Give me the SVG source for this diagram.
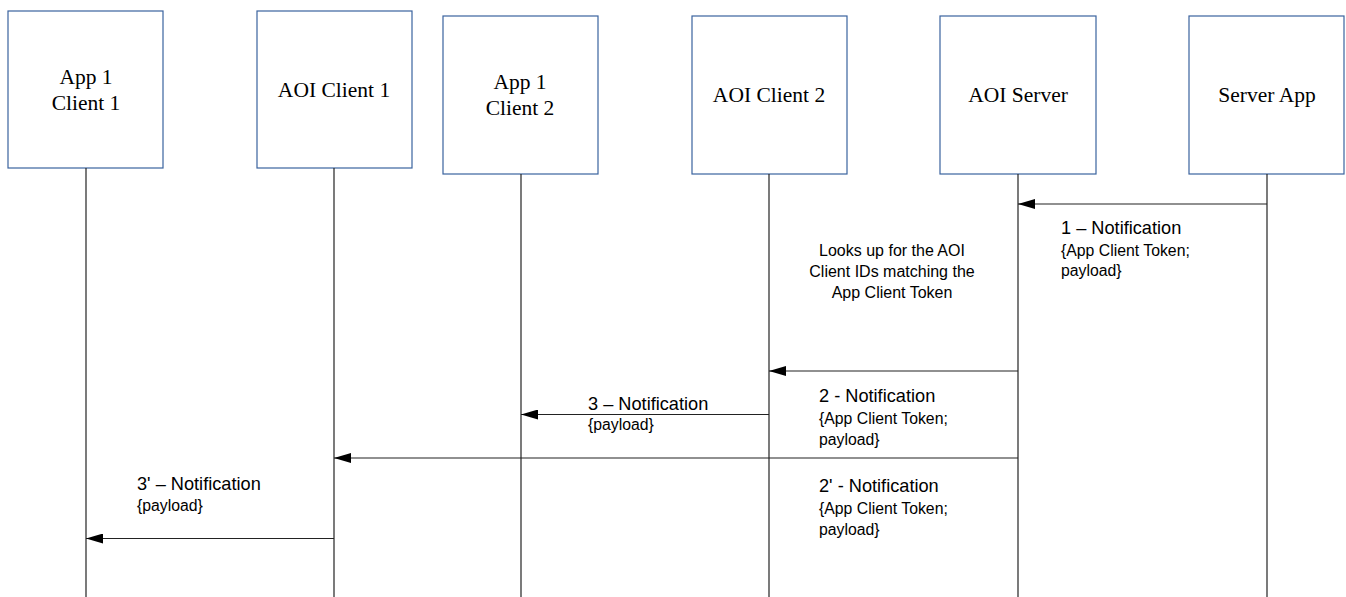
<svg xmlns="http://www.w3.org/2000/svg" width="1346" height="597" viewBox="0 0 1346 597">
<style>
.box{fill:#fff;stroke:#3a639e;stroke-width:1.2}
.lt{font-family:"Liberation Serif","Times New Roman",serif;font-size:21.5px;fill:#000;text-anchor:middle}
.life{stroke:#222;stroke-width:1.2;fill:none}
.msg{stroke:#222;stroke-width:1.2;fill:none;marker-end:url(#ah)}
.t1{font-family:"Liberation Sans",Arial,sans-serif;font-size:18.2px;fill:#000}
.t2{font-family:"Liberation Sans",Arial,sans-serif;font-size:15.8px;fill:#000}
.note{font-family:"Liberation Sans",Arial,sans-serif;font-size:16px;fill:#000;text-anchor:middle}
</style>
<defs>
<marker id="ah" markerWidth="17" markerHeight="10" refX="17" refY="5" orient="auto" markerUnits="userSpaceOnUse">
<path d="M0,0 L17,5 L0,10 Z" fill="#000"/>
</marker>
</defs>
<rect width="1346" height="597" fill="#fff"/>
<g id="app1client1">
<rect class="box" x="8" y="11" width="155" height="157"/>
<text class="lt" x="86" y="84">App 1</text>
<text class="lt" x="86" y="110">Client 1</text>
</g>
<g id="aoiclient1">
<rect class="box" x="257" y="11" width="155" height="157"/>
<text class="lt" x="334" y="97">AOI Client 1</text>
</g>
<g id="app1client2">
<rect class="box" x="443" y="16" width="155" height="158"/>
<text class="lt" x="520" y="89">App 1</text>
<text class="lt" x="520" y="115">Client 2</text>
</g>
<g id="aoiclient2">
<rect class="box" x="692" y="16" width="155" height="158"/>
<text class="lt" x="769" y="102">AOI Client 2</text>
</g>
<g id="aoiserver">
<rect class="box" x="940" y="16" width="156" height="158"/>
<text class="lt" x="1018" y="102">AOI Server</text>
</g>
<g id="serverapp">
<rect class="box" x="1189" y="16" width="155" height="158"/>
<text class="lt" x="1267" y="102">Server App</text>
</g>
<g id="connectors">
<line class="life" x1="86" y1="168" x2="86" y2="597"/>
<line class="life" x1="334" y1="168" x2="334" y2="597"/>
<line class="life" x1="521" y1="174" x2="521" y2="597"/>
<line class="life" x1="769" y1="174" x2="769" y2="597"/>
<line class="life" x1="1018" y1="174" x2="1018" y2="597"/>
<line class="life" x1="1267" y1="174" x2="1267" y2="597"/>
<line class="msg" x1="1267" y1="204" x2="1018" y2="204"/>
<line class="msg" x1="1018" y1="371" x2="769" y2="371"/>
<line class="msg" x1="769" y1="414.5" x2="521" y2="414.5"/>
<line class="msg" x1="1018" y1="458" x2="334" y2="458"/>
<line class="msg" x1="334" y1="538.5" x2="86" y2="538.5"/>
</g>
<g id="labels">
<text class="t1" x="1061" y="234">1 – Notification</text>
<text class="t2" x="1061" y="256">{App Client Token;</text>
<text class="t2" x="1061" y="276">payload}</text>
<text class="note" x="892" y="256">Looks up for the AOI</text>
<text class="note" x="892" y="277">Client IDs matching the</text>
<text class="note" x="892" y="298">App Client Token</text>
<text class="t1" x="819" y="402">2 - Notification</text>
<text class="t2" x="819" y="424">{App Client Token;</text>
<text class="t2" x="819" y="445">payload}</text>
<text class="t1" x="588" y="410">3 – Notification</text>
<text class="t2" x="588" y="430">{payload}</text>
<text class="t1" x="819" y="492">2' - Notification</text>
<text class="t2" x="819" y="514">{App Client Token;</text>
<text class="t2" x="819" y="535">payload}</text>
<text class="t1" x="137" y="490">3' – Notification</text>
<text class="t2" x="137" y="511">{payload}</text>
</g>
</svg>
